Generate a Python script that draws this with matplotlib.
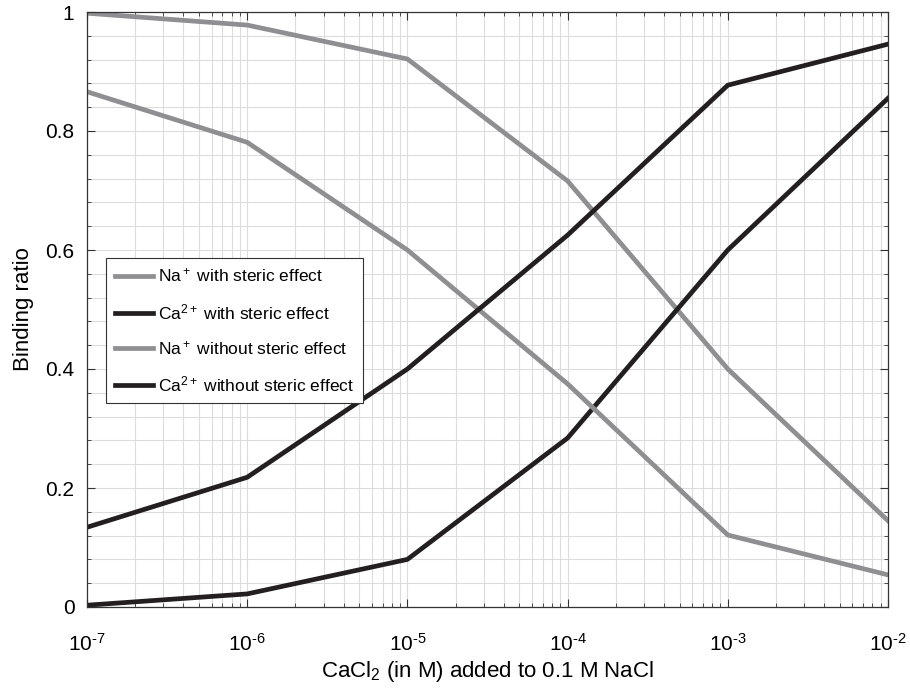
import numpy as np
import matplotlib.pyplot as plt
from matplotlib.ticker import LogLocator, MultipleLocator, FixedLocator, FuncFormatter

plt.rcParams['font.family'] = ['Liberation Sans', 'DejaVu Sans']
plt.rcParams['mathtext.fontset'] = 'custom'
plt.rcParams['mathtext.rm'] = 'Liberation Sans'
plt.rcParams['mathtext.it'] = 'Liberation Sans:italic'
plt.rcParams['mathtext.default'] = 'regular'

# CaCl2 concentration (M)
conc = [1e-7, 1e-6, 1e-5, 1e-4, 1e-3, 1e-2]

# binding ratios
na_steric = [0.998, 0.978, 0.921, 0.716, 0.400, 0.145]
ca_steric = [0.003, 0.022, 0.080, 0.284, 0.600, 0.855]
na_nosteric = [0.866, 0.781, 0.600, 0.375, 0.121, 0.054]
ca_nosteric = [0.134, 0.218, 0.400, 0.625, 0.877, 0.946]

labels = ['Na$^+$ with steric effect', 'Ca$^{2+}$ with steric effect',
          'Na$^+$ without steric effect', 'Ca$^{2+}$ without steric effect']

gray = '#8f8f92'
black = '#231f20'

fig = plt.figure(figsize=(9.1, 6.96), dpi=100)
ax = fig.add_axes([87 / 910, 1 - 607 / 696, 801 / 910, 595 / 696])

lw = 3.4
ax.plot(conc, na_steric, color=gray, lw=lw, label=labels[0])
ax.plot(conc, ca_steric, color=black, lw=lw, label=labels[1])
ax.plot(conc, na_nosteric, color=gray, lw=lw, label=labels[2])
ax.plot(conc, ca_nosteric, color=black, lw=lw, label=labels[3])

ax.set_xscale('log')
ax.set_xlim(1e-7, 1e-2)
ax.set_ylim(0, 1)
ax.xaxis.set_major_locator(LogLocator(base=10, numticks=10))
ax.xaxis.set_minor_locator(LogLocator(base=10, subs=np.arange(2, 10), numticks=20))
# short hyphen in the exponent, like the original
ax.xaxis.set_major_formatter(FuncFormatter(
    lambda v, p: r'$10^{\text{-}%d}$' % round(-np.log10(v))))
ax.yaxis.set_major_locator(FixedLocator([0, 0.2, 0.4, 0.6, 0.8, 1.0]))
ax.yaxis.set_minor_locator(MultipleLocator(0.04))
ax.set_yticklabels(['0', '0.2', '0.4', '0.6', '0.8', '1'])

ax.grid(True, which='both', color='#dcdcdc', lw=0.8)
ax.set_axisbelow(True)
ax.tick_params(which='both', direction='in', top=True, right=True,
               color='#333333', labelsize=15)
ax.tick_params(axis='x', which='major', pad=19)
ax.tick_params(axis='y', which='major', pad=9)
ax.tick_params(which='major', length=6, width=0.8)
ax.tick_params(which='minor', length=3, width=0.6)
for s in ax.spines.values():
    s.set_color('#333333')
    s.set_linewidth(0.9)

ax.set_xlabel('CaCl$_2$ (in M) added to 0.1 M NaCl', fontsize=16, labelpad=3)
ax.set_ylabel('Binding ratio', fontsize=16, labelpad=8)

leg = ax.legend(loc='upper left', bbox_to_anchor=(0.0237, 0.5866), borderaxespad=0,
                fontsize=12.5, fancybox=False, framealpha=1, edgecolor='#333333',
                handlelength=2.2, handletextpad=0.3, labelspacing=1.0,
                borderpad=0.5)
leg.get_frame().set_linewidth(0.8)

fig.savefig('out.png', dpi=100)
